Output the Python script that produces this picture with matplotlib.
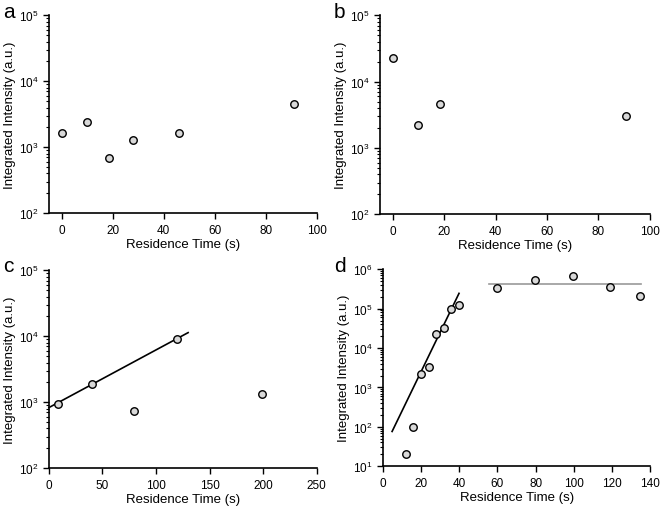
import matplotlib
matplotlib.use("Agg")
import matplotlib.pyplot as plt
import numpy as np

plt.rcParams['font.family'] = ['Liberation Sans', 'DejaVu Sans']
plt.rcParams['mathtext.fontset'] = 'custom'
plt.rcParams['mathtext.rm'] = 'Liberation Sans'
plt.rcParams['mathtext.it'] = 'Liberation Sans'

# panel a
time_a = [0, 9.8, 18.7, 27.9, 46.1, 91.1]
inten_a = [1650, 2380, 690, 1275, 1650, 4550]

# panel b
time_b = [0, 9.6, 18.5, 90.8]
inten_b = [23000, 2220, 4600, 3070]

# panel c
time_c = [8.5, 40.3, 79.7, 119.4, 199.4]
inten_c = [933, 1860, 740, 9230, 1350]
fit_c_x = [0, 130]
fit_c_y = [830, 11360]

# panel d
time_d = [12.2, 15.9, 20.1, 24.0, 28.0, 31.8, 35.8, 39.9,
          59.6, 79.4, 99.3, 118.9, 134.8]
inten_d = [20.5, 98, 2130, 3340, 23000, 33000, 100000, 124000,
           335000, 525000, 665000, 350000, 210000]
fit_d_x = [4.9, 39.9]
fit_d_y = [76, 245000]
plateau_d_x = [55.4, 135]
plateau_d_y = [415000, 415000]

fig = plt.figure(figsize=(6.61, 5.10), dpi=100)

boxes = {
    'a': [0.074, 0.580, 0.405, 0.388],
    'b': [0.575, 0.578, 0.408, 0.390],
    'c': [0.074, 0.080, 0.405, 0.388],
    'd': [0.579, 0.084, 0.405, 0.386],
}

mk = dict(marker='o', ls='none', ms=5.4, mfc='#d9d9d9', mec='k', mew=1.0)


def style(ax, xlim, ylim, xticks):
    ax.set_yscale('log')
    ax.set_xlim(*xlim)
    ax.set_ylim(*ylim)
    ax.set_xticks(xticks)
    for s in ['top', 'right']:
        ax.spines[s].set_visible(False)
    for s in ['left', 'bottom']:
        ax.spines[s].set_linewidth(1.2)
    ax.tick_params(which='major', direction='out', length=4, width=1.0, labelsize=8.5)
    ax.tick_params(which='minor', direction='out', length=2, width=0.8)
    ax.tick_params(axis='x', which='minor', bottom=False)
    ax.set_xlabel('Residence Time (s)', fontsize=9.5, labelpad=2)
    ax.set_ylabel('Integrated Intensity (a.u.)', fontsize=9.5, labelpad=2)


ax = fig.add_axes(boxes['a'])
ax.plot(time_a, inten_a, **mk)
style(ax, (-5, 100), (1e2, 1e5), [0, 20, 40, 60, 80, 100])

ax = fig.add_axes(boxes['b'])
ax.plot(time_b, inten_b, **mk)
style(ax, (-5, 100), (1e2, 1e5), [0, 20, 40, 60, 80, 100])

ax = fig.add_axes(boxes['c'])
ax.plot(fit_c_x, fit_c_y, color='k', lw=1.2, clip_on=False)
ax.plot(time_c, inten_c, **mk)
style(ax, (0, 250), (1e2, 1e5), [0, 50, 100, 150, 200, 250])

ax = fig.add_axes(boxes['d'])
ax.plot(fit_d_x, fit_d_y, color='k', lw=1.2)
ax.plot(plateau_d_x, plateau_d_y, color='#999999', lw=1.2)
ax.plot(time_d, inten_d, **mk)
style(ax, (0, 140), (1e1, 1e6), [0, 20, 40, 60, 80, 100, 120, 140])

for lab, (x, y) in zip('abcd', [(0.004, 0.995), (0.505, 0.995), (0.004, 0.497), (0.505, 0.497)]):
    fig.text(x, y, lab, fontsize=15, va='top', ha='left')

fig.savefig('out.png', dpi=100)
